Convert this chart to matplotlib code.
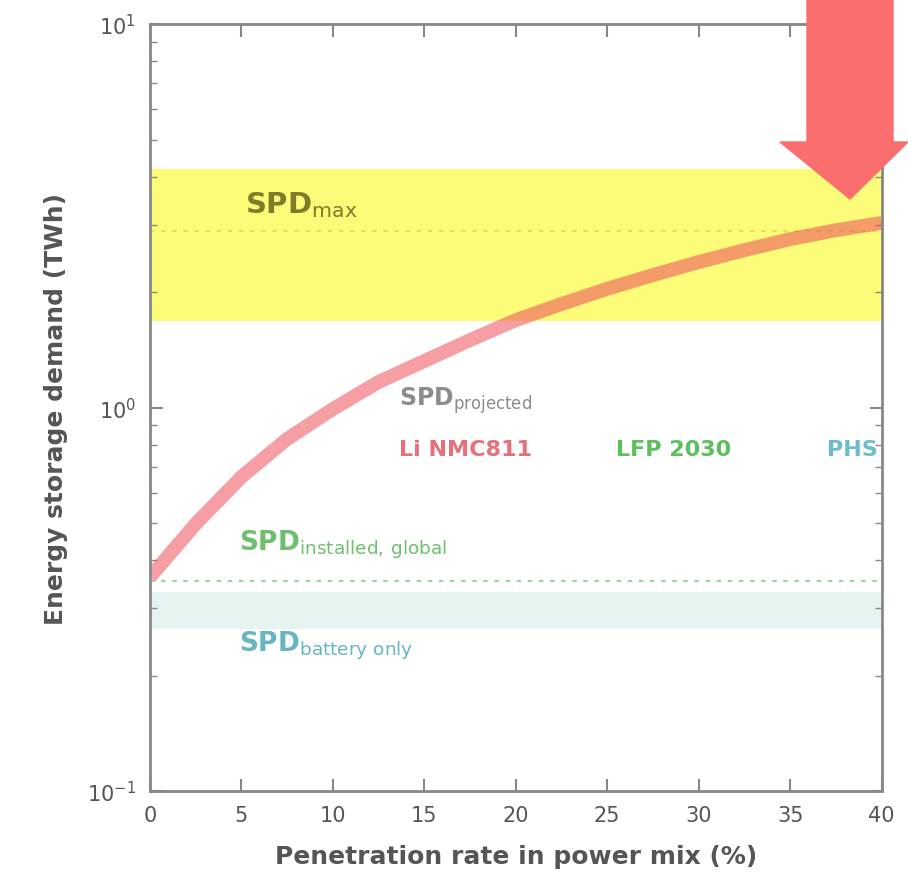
import matplotlib.pyplot as plt
from matplotlib.patches import Polygon

# penetration rate (x) and storage demand (y, log scale)
rate = [0, 2.5, 5, 7.5, 10, 12.5, 15, 17.5, 20, 22.5, 25, 27.5, 30,
        32.5, 35, 37.5, 40]
demand = [0.361, 0.497, 0.659, 0.828, 0.991, 1.166, 1.322, 1.50, 1.69,
          1.862, 2.04, 2.216, 2.396, 2.573, 2.75, 2.90, 3.03]

# reference levels
spd_max_band = (1.68, 4.19)
spd_max = 2.89
spd_installed = 0.353
spd_battery_band = (0.265, 0.33)

x_ticks = [0, 5, 10, 15, 20, 25, 30, 35, 40]
tech_names = ["Li NMC811", "LFP 2030", "PHS"]
tech_colors = ["#e8707a", "#5cbf5c", "#6bbccc"]

fig = plt.figure(figsize=(9.08, 8.95), dpi=100)
ax = fig.add_axes([0.165, 0.115, 0.806, 0.857])

# bands and reference lines
ax.axhspan(*spd_max_band, color="#fcfc78", lw=0, zorder=0)
ax.axhspan(*spd_battery_band, color="#e6f3f3", lw=0, zorder=0)
ax.axhline(spd_max, color="#e2e25a", lw=1.6, ls=(0, (2, 3)), zorder=1)
ax.axhline(spd_installed, color="#9ed49e", lw=1.6, ls=(0, (2, 3)), zorder=1)

# demand curve
ax.plot(rate, demand, color="#ee4e5a", alpha=0.55, lw=10,
        solid_capstyle="butt", solid_joinstyle="round", zorder=2)

# labels
ax.text(5.2, 3.39, r"SPD$_{\rm max}$", fontsize=21, fontweight="bold",
        color="#7c7c2a", ha="left", va="center")
ax.text(13.6, 1.05, r"SPD$_{\rm projected}$", fontsize=17, fontweight="bold",
        color="#8c8c8c", ha="left", va="center")
for xpos, name, c in zip([13.6, 25.5, 37.0], tech_names, tech_colors):
    ax.text(xpos, 0.78, name, fontsize=16, fontweight="bold", color=c,
            ha="left", va="center")
ax.text(4.9, 0.44, r"SPD$_{\rm installed,\,global}$", fontsize=19,
        fontweight="bold", color="#6cbf6c", ha="left", va="center")
ax.text(4.9, 0.241, r"SPD$_{\rm battery\ only}$", fontsize=19,
        fontweight="bold", color="#66b5c0", ha="left", va="center")

ax.set_yscale("log")
ax.set_ylim(0.1, 10)
ax.set_xlim(0, 40)
ax.set_xticks(x_ticks)
ax.set_xlabel("Penetration rate in power mix (%)", fontsize=18,
              fontweight="bold", color="#555555", labelpad=14)
ax.set_ylabel("Energy storage demand (TWh)", fontsize=18,
              fontweight="bold", color="#555555", labelpad=14)
ax.tick_params(which="both", direction="in", top=True, right=True,
               color="#888888", labelcolor="#555555", labelsize=15)
ax.tick_params(which="major", length=9, width=1.5, pad=10)
ax.tick_params(which="minor", length=5, width=1)
for s in ax.spines.values():
    s.set_color("#888888")
    s.set_linewidth(2)

# pointer arrow at the top right
arrow_px = [(807, 0), (893, 0), (893, 143), (908, 143), (850, 200),
            (780, 143), (807, 143)]
arrow = Polygon([(px / 908, 1 - py / 895) for px, py in arrow_px],
                closed=True, transform=fig.transFigure, color="#fa6e6e",
                zorder=10)
fig.patches.append(arrow)

fig.savefig("out.png", dpi=100)
